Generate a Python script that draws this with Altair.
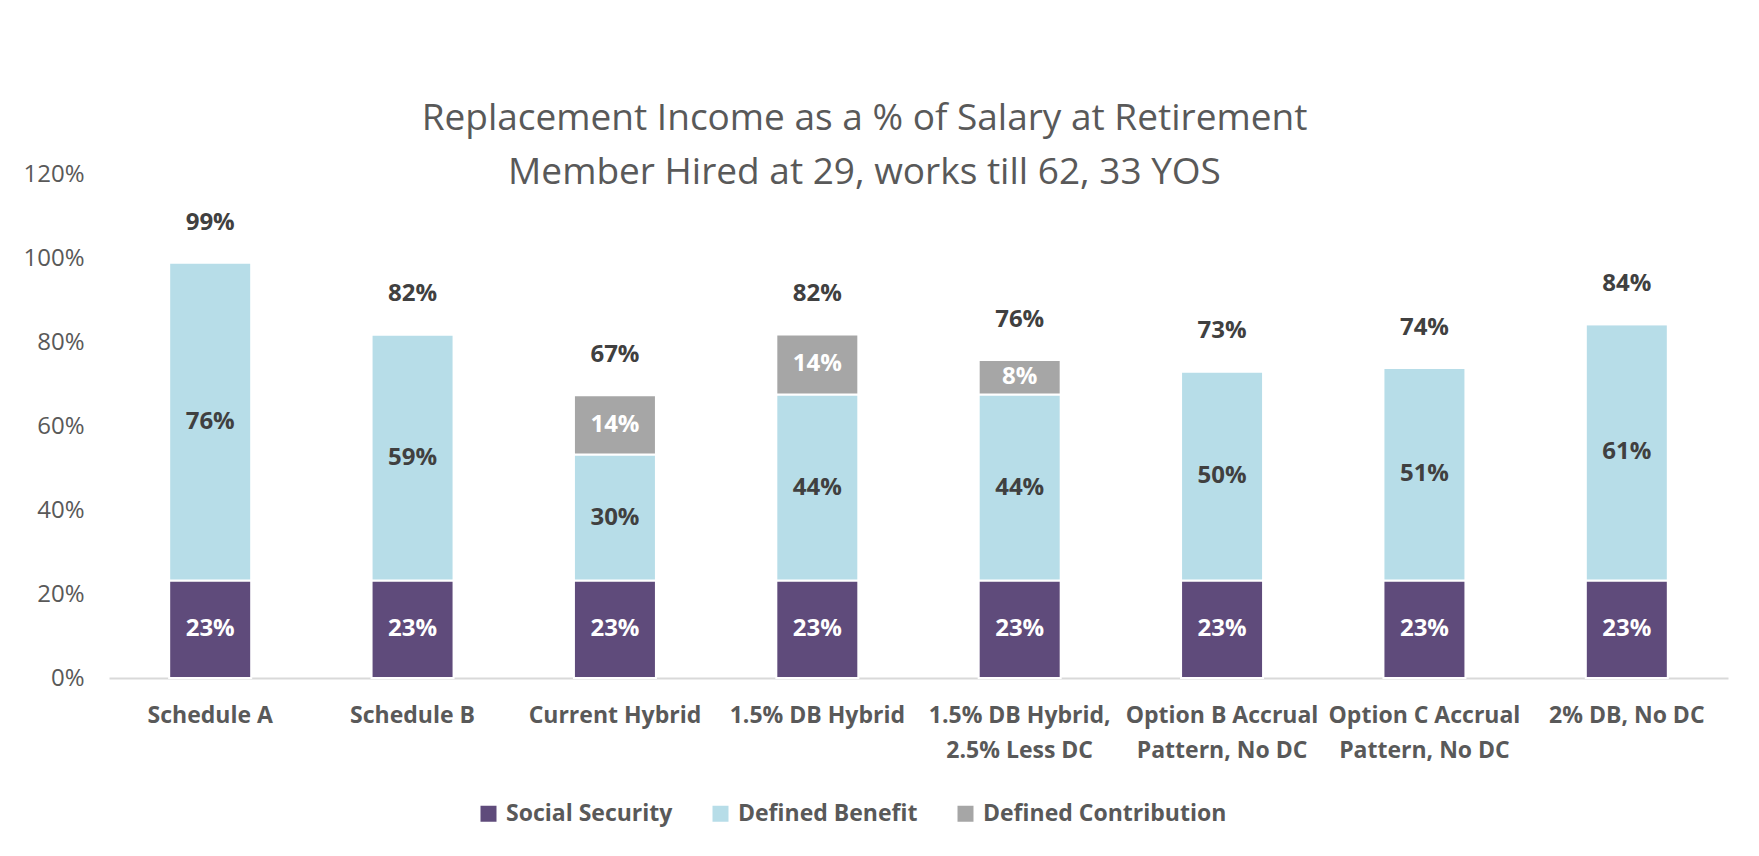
import altair as alt
import pandas as pd

categories = [
    "Schedule A", "Schedule B", "Current Hybrid", "1.5% DB Hybrid",
    "1.5% DB Hybrid,|2.5% Less DC", "Option B Accrual|Pattern, No DC",
    "Option C Accrual|Pattern, No DC", "2% DB, No DC",
]
series_names = ["Social Security", "Defined Benefit", "Defined Contribution"]
series_colors = ["#5F4B7B", "#B7DDE8", "#A6A6A6"]
social_security = [23.2, 23.2, 23.2, 23.2, 23.2, 23.2, 23.2, 23.2]
defined_benefit = [75.7, 58.6, 30.0, 44.3, 44.3, 49.8, 50.6, 61.0]
defined_contribution = [0.0, 0.0, 14.1, 14.3, 8.2, 0.0, 0.0, 0.0]
y_ticks = [0, 20, 40, 60, 80, 100, 120]

rows = []
for i, c in enumerate(categories):
    for k, (s, vals) in enumerate(zip(series_names, [social_security, defined_benefit, defined_contribution])):
        rows.append({"cat": c, "series": s, "value": vals[i], "ord": k})
df = pd.DataFrame(rows)

FONT = "Open Sans"
GRAY = "#595959"
DARK = "#404040"

x_enc = alt.X("cat:N", sort=categories, title=None,
              scale=alt.Scale(paddingInner=0, paddingOuter=0),
              axis=alt.Axis(labelExpr="split(datum.label, '|')", labelAngle=0,
                            labelFont=FONT, labelFontSize=23, labelFontWeight="bold",
                            labelColor=GRAY, labelPadding=26, labelLineHeight=35,
                            labelLimit=400, ticks=False, domainColor="#D9D9D9",
                            domainWidth=2, labelBaseline="top"))
y_scale = alt.Scale(domain=[0, 120], nice=False)

base = alt.Chart(df)

bars = base.mark_bar(size=82, stroke="white", strokeWidth=2).encode(
    x=x_enc,
    y=alt.Y("value:Q", stack="zero", scale=y_scale, title=None,
            axis=alt.Axis(values=y_ticks, labelExpr="datum.value + '%'",
                          labelFont=FONT, labelFontSize=24, labelColor=GRAY,
                          labelPadding=25, ticks=False, domain=False, grid=False)),
    color=alt.Color("series:N", sort=series_names,
                    scale=alt.Scale(domain=series_names, range=series_colors),
                    legend=alt.Legend(title=None, orient="none", direction="horizontal",
                                      legendX=368, legendY=628,
                                      symbolType="square", symbolSize=256,
                                      symbolStrokeWidth=0, labelFont=FONT,
                                      labelFontSize=23, labelFontWeight="bold",
                                      labelColor=GRAY, labelOffset=6, labelLimit=500,
                                      columnPadding=36)),
    order=alt.Order("ord:Q", sort="ascending"),
)

seg_labels = base.transform_filter("datum.value > 0").transform_stack(
    stack="value", groupby=["cat"], as_=["y0", "y1"], sort=[alt.SortField("ord")]
).transform_calculate(
    mid="(datum.y0 + datum.y1) / 2",
    lab="format(datum.value, '.0f') + '%'",
).mark_text(font=FONT, fontSize=24, fontWeight="bold", baseline="middle").encode(
    x=alt.X("cat:N", sort=categories),
    y=alt.Y("mid:Q", scale=y_scale),
    text="lab:N",
    color=alt.condition("datum.series == 'Defined Benefit'", alt.value(DARK), alt.value("white")),
)

totals = base.transform_aggregate(
    total="sum(value)", groupby=["cat"]
).transform_calculate(
    lab="format(datum.total, '.0f') + '%'"
).mark_text(font=FONT, fontSize=24, fontWeight="bold", baseline="middle", dy=-40, color=DARK).encode(
    x=alt.X("cat:N", sort=categories),
    y=alt.Y("total:Q", scale=y_scale),
    text="lab:N",
)

chart = alt.layer(bars, seg_labels, totals).properties(
    width=1619, height=504,
    autosize=alt.AutoSizeParams(type="none"),
    padding={"left": 101, "top": 166, "right": 23, "bottom": 170},
    title=alt.TitleParams(
        text=["Replacement Income as a % of Salary at Retirement",
              "Member Hired at 29, works till 62, 33 YOS"],
        font=FONT, fontSize=37, fontWeight="normal", color=GRAY,
        lineHeight=54, anchor="middle", frame="group", dx=-54, offset=-30,
    ),
).configure(background="white").configure_view(strokeWidth=0, strokeOpacity=0)

chart.save("out.html", embed_options={"renderer": "svg", "actions": False})
